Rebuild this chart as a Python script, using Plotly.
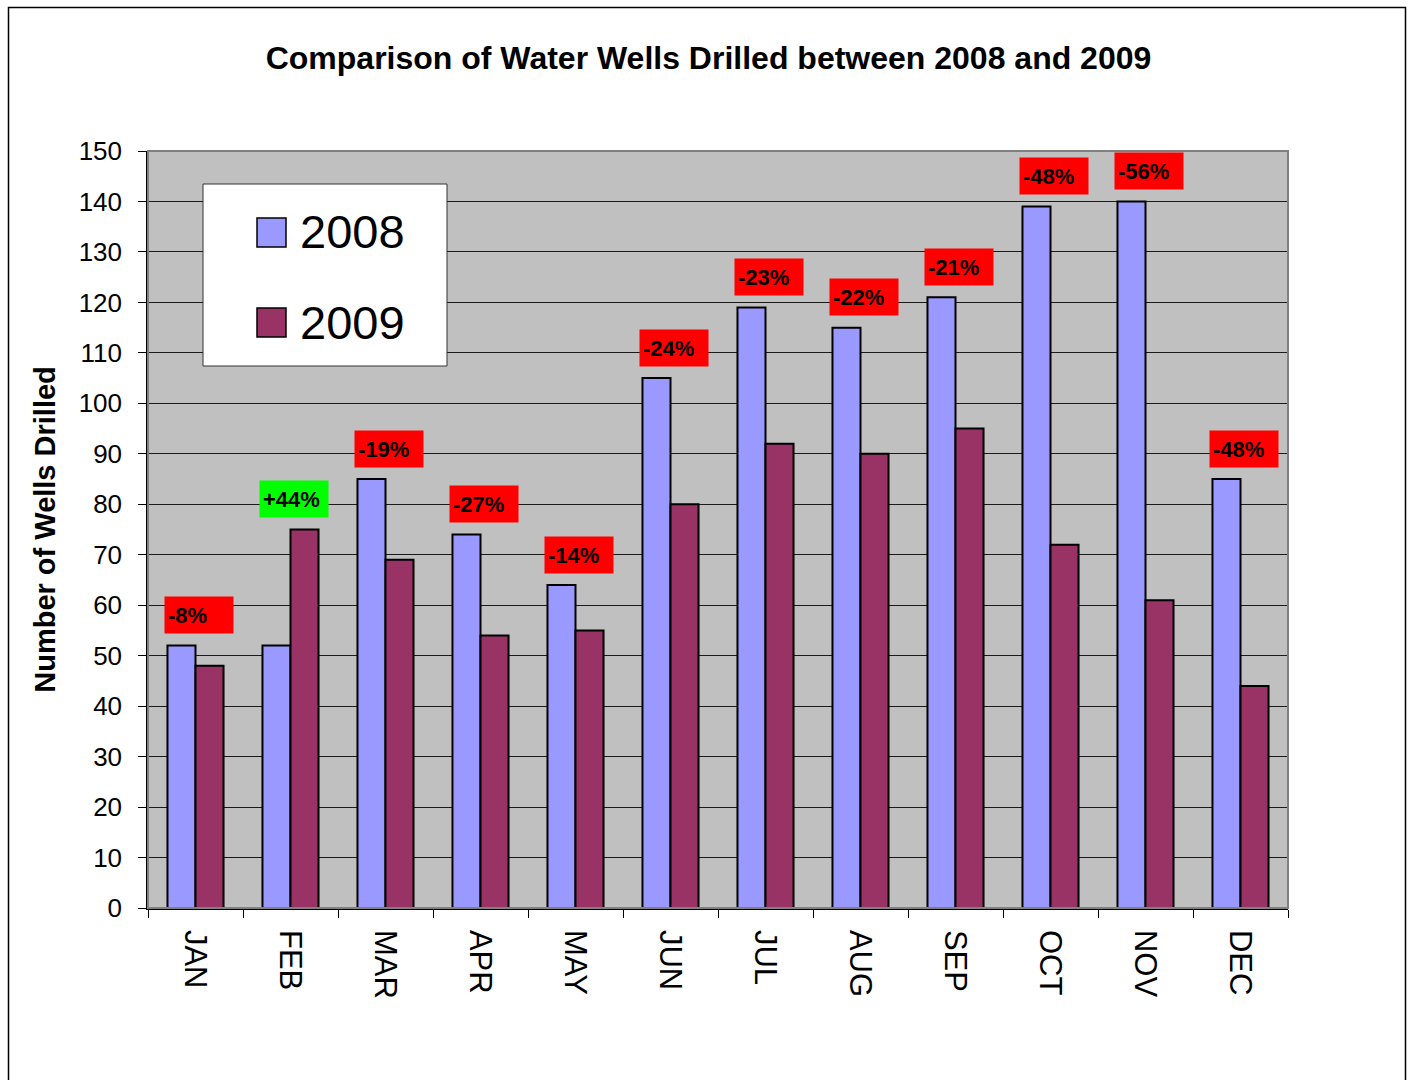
import plotly.graph_objects as go

months = ["JAN", "FEB", "MAR", "APR", "MAY", "JUN", "JUL", "AUG", "SEP", "OCT", "NOV", "DEC"]
wells_2008 = [52, 52, 85, 74, 64, 105, 119, 115, 121, 139, 140, 85]
wells_2009 = [48, 75, 69, 54, 55, 80, 92, 90, 95, 72, 61, 44]
changes = ["-8%", "+44%", "-19%", "-27%", "-14%", "-24%", "-23%", "-22%", "-21%", "-48%", "-56%", "-48%"]

FONT = "Liberation Sans, Arial, sans-serif"
C08 = "#9999FF"
C09 = "#993366"

W, H = 1411, 1080
L, T = 148, 151
PW, PH = 1140, 757
R = W - L - PW
B = H - T - PH

def px(x):
    return (x - L) / PW

def py(y):
    return (T + PH - y) / PH

fig = go.Figure()
fig.add_trace(go.Bar(x=months, y=wells_2008, name="2008", marker=dict(color=C08, line=dict(color="black", width=2)), showlegend=False))
fig.add_trace(go.Bar(x=months, y=wells_2009, name="2009", marker=dict(color=C09, line=dict(color="black", width=2)), showlegend=False))

annotations = []
for m, a, b, c in zip(months, wells_2008, wells_2009, changes):
    annotations.append(dict(
        x=m, y=max(a, b) + 6, xref="x", yref="y", text="<b>" + c + "</b>",
        showarrow=False, xshift=3, bgcolor="#00FF00" if c.startswith("+") else "#FF0000",
        font=dict(family=FONT, size=22, color="black"), width=62, height=30, align="left",
        borderpad=3, valign="middle",
    ))

# custom legend
annotations.append(dict(x=px(298), y=py(232), xref="paper", yref="paper", text="2008", showarrow=False,
                        xanchor="left", yanchor="middle", font=dict(family=FONT, size=47, color="black")))
annotations.append(dict(x=px(298), y=py(322), xref="paper", yref="paper", text="2009", showarrow=False,
                        xanchor="left", yanchor="middle", font=dict(family=FONT, size=47, color="black")))

shapes = [
    dict(type="rect", xref="paper", yref="paper", x0=px(8.5), x1=px(1405.5), y0=py(1095), y1=py(7.5),
         line=dict(color="black", width=1.5), layer="below"),
    dict(type="rect", xref="paper", yref="paper", x0=0, x1=1, y0=0, y1=1,
         line=dict(color="#808080", width=2), layer="above"),
    dict(type="rect", xref="paper", yref="paper", x0=px(203), x1=px(447), y0=py(366), y1=py(184),
         line=dict(color="#333333", width=1), fillcolor="white", layer="above"),
    dict(type="rect", xref="paper", yref="paper", x0=px(257), x1=px(286), y0=py(247), y1=py(218),
         line=dict(color="black", width=1.5), fillcolor=C08, layer="above"),
    dict(type="rect", xref="paper", yref="paper", x0=px(257), x1=px(286), y0=py(337), y1=py(308),
         line=dict(color="black", width=1.5), fillcolor=C09, layer="above"),
]

fig.update_layout(
    width=W, height=H,
    margin=dict(l=L, r=R, t=T, b=B, autoexpand=False),
    paper_bgcolor="white", plot_bgcolor="#C0C0C0",
    barmode="group", bargap=0.41, bargroupgap=0,
    title=dict(text="<b>Comparison of Water Wells Drilled between 2008 and 2009</b>",
               x=708.5 / W, xref="container", xanchor="center", y=1 - 58 / H, yref="container", yanchor="middle",
               font=dict(family=FONT, size=32, color="black")),
    font=dict(family=FONT, color="black"),
    annotations=annotations, shapes=shapes,
    xaxis=dict(tickangle=90, tickfont=dict(family=FONT, size=31, color="black"), ticks="outside",
               tickson="boundaries", ticklen=8, tickcolor="black", showline=True, linecolor="black",
               linewidth=1.5, showgrid=False, fixedrange=True, ticklabelstandoff=14),
    yaxis=dict(range=[0, 150], dtick=10, tickfont=dict(family=FONT, size=26, color="black"), ticks="outside",
               ticklen=8, tickcolor="black", showline=True, linecolor="black", linewidth=1.5,
               showgrid=True, gridcolor="#1a1a1a", gridwidth=1, zeroline=False, ticklabelstandoff=11,
               title=dict(text="<b>Number of Wells Drilled</b>", font=dict(family=FONT, size=29, color="black"), standoff=15)),
)

fig.write_html("out.html", config={"displayModeBar": False},
               post_script="document.body.style.margin='0';document.body.style.overflow='hidden';")
